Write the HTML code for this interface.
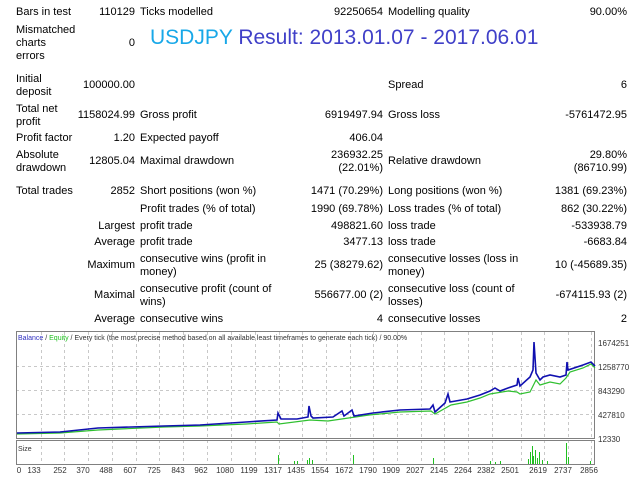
<!DOCTYPE html>
<html><head><meta charset="utf-8"><style>
body{margin:0;background:#fff;width:640px;height:480px;overflow:hidden;position:relative;font-family:"Liberation Sans",sans-serif;font-size:11px;color:#000}
.t{position:absolute;white-space:nowrap;line-height:13px}
.r{text-align:right}
</style></head><body>
<div class="t" style="left:16px;top:6px">Bars in test</div>
<div class="t r" style="right:505px;top:6px">110129</div>
<div class="t" style="left:140px;top:6px">Ticks modelled</div>
<div class="t r" style="right:257px;top:6px">92250654</div>
<div class="t" style="left:388px;top:6px">Modelling quality</div>
<div class="t r" style="right:13px;top:6px">90.00%</div>

<div class="t" style="left:16px;top:24px">Mismatched<br>charts<br>errors</div>
<div class="t r" style="right:505px;top:37px">0</div>
<div class="t" style="left:150px;top:25px;font-size:21px;line-height:26px;color:#4040c8"><span style="color:#18a8e8">USDJPY</span> Result: 2013.01.07 - 2017.06.01</div>

<div class="t" style="left:16px;top:73px">Initial<br>deposit</div>
<div class="t r" style="right:505px;top:79px">100000.00</div>
<div class="t" style="left:388px;top:79px">Spread</div>
<div class="t r" style="right:13px;top:79px">6</div>

<div class="t" style="left:16px;top:103px">Total net<br>profit</div>
<div class="t r" style="right:505px;top:109px">1158024.99</div>
<div class="t" style="left:140px;top:109px">Gross profit</div>
<div class="t r" style="right:257px;top:109px">6919497.94</div>
<div class="t" style="left:388px;top:109px">Gross loss</div>
<div class="t r" style="right:13px;top:109px">-5761472.95</div>

<div class="t" style="left:16px;top:132px">Profit factor</div>
<div class="t r" style="right:505px;top:132px">1.20</div>
<div class="t" style="left:140px;top:132px">Expected payoff</div>
<div class="t r" style="right:257px;top:132px">406.04</div>

<div class="t" style="left:16px;top:149px">Absolute<br>drawdown</div>
<div class="t r" style="right:505px;top:155px">12805.04</div>
<div class="t" style="left:140px;top:155px">Maximal drawdown</div>
<div class="t r" style="right:257px;top:149px">236932.25<br>(22.01%)</div>
<div class="t" style="left:388px;top:155px">Relative drawdown</div>
<div class="t r" style="right:13px;top:149px">29.80%<br>(86710.99)</div>

<div class="t" style="left:16px;top:185px">Total trades</div>
<div class="t r" style="right:505px;top:185px">2852</div>
<div class="t" style="left:140px;top:185px">Short positions (won %)</div>
<div class="t r" style="right:257px;top:185px">1471 (70.29%)</div>
<div class="t" style="left:388px;top:185px">Long positions (won %)</div>
<div class="t r" style="right:13px;top:185px">1381 (69.23%)</div>

<div class="t" style="left:140px;top:203px">Profit trades (% of total)</div>
<div class="t r" style="right:257px;top:203px">1990 (69.78%)</div>
<div class="t" style="left:388px;top:203px">Loss trades (% of total)</div>
<div class="t r" style="right:13px;top:203px">862 (30.22%)</div>

<div class="t r" style="right:505px;top:220px">Largest</div>
<div class="t" style="left:140px;top:220px">profit trade</div>
<div class="t r" style="right:257px;top:220px">498821.60</div>
<div class="t" style="left:388px;top:220px">loss trade</div>
<div class="t r" style="right:13px;top:220px">-533938.79</div>

<div class="t r" style="right:505px;top:236px">Average</div>
<div class="t" style="left:140px;top:236px">profit trade</div>
<div class="t r" style="right:257px;top:236px">3477.13</div>
<div class="t" style="left:388px;top:236px">loss trade</div>
<div class="t r" style="right:13px;top:236px">-6683.84</div>

<div class="t r" style="right:505px;top:259px">Maximum</div>
<div class="t" style="left:140px;top:253px">consecutive wins (profit in<br>money)</div>
<div class="t r" style="right:257px;top:259px">25 (38279.62)</div>
<div class="t" style="left:388px;top:253px">consecutive losses (loss in<br>money)</div>
<div class="t r" style="right:13px;top:259px">10 (-45689.35)</div>

<div class="t r" style="right:505px;top:289px">Maximal</div>
<div class="t" style="left:140px;top:283px">consecutive profit (count of<br>wins)</div>
<div class="t r" style="right:257px;top:289px">556677.00 (2)</div>
<div class="t" style="left:388px;top:283px">consecutive loss (count of<br>losses)</div>
<div class="t r" style="right:13px;top:289px">-674115.93 (2)</div>

<div class="t r" style="right:505px;top:313px">Average</div>
<div class="t" style="left:140px;top:313px">consecutive wins</div>
<div class="t r" style="right:257px;top:313px">4</div>
<div class="t" style="left:388px;top:313px">consecutive losses</div>
<div class="t r" style="right:13px;top:313px">2</div>

<svg style="position:absolute;left:0;top:0" width="640" height="480" font-family="Liberation Sans, sans-serif">
<g stroke="#c8c8c8" stroke-dasharray="3,3" stroke-width="1" fill="none">
<line x1="16" x2="595" y1="366.5" y2="366.5"/><line x1="16" x2="595" y1="390.5" y2="390.5"/><line x1="16" x2="595" y1="414.5" y2="414.5"/>
<path d="M41.5 332V464M64.5 332V464M88.5 332V464M112.5 332V464M136.5 332V464M159.5 332V464M183.5 332V464M207.5 332V464M231.5 332V464M255.5 332V464M279.5 332V464M302.5 332V464M326.5 332V464M350.5 332V464M373.5 332V464M397.5 332V464M421.5 332V464M444.5 332V464M468.5 332V464M492.5 332V464M521.5 332V464M544.5 332V464M568.5 332V464M591.5 332V464"/>
</g>
<rect x="16.5" y="331.5" width="578" height="107" fill="none" stroke="#808080"/>
<rect x="16.5" y="440.5" width="578" height="24" fill="none" stroke="#808080"/>
<text x="18" y="340" font-size="7" fill="#333"><tspan fill="#3030c0">Balance</tspan> / <tspan fill="#20c020">Equity</tspan> / Every tick (the most precise method based on all available least timeframes to generate each tick) / 90.00%</text>
<text x="18" y="451" font-size="7" fill="#333">Size</text>
<polyline fill="none" stroke="#30c030" stroke-width="1.2" points="17,434 60,433 98,430 164,427 200,426 246,424 277,422 279,424 310,420 328,421 369,415 400,412 431,411 435,414 451,405 467,402 480,398 490,394 508,391 517,392 520,394 530,392 533,386 536,380 540,385 550,382 560,384 566,378 570,372 583,368 591,364 595,368"/>
<polyline fill="none" stroke="#1010b0" stroke-width="1.6" points="17,433 60,432 98,428 164,426 200,425 246,422 277,420 278,413 281,419 297,419 308,417 309,406 311,416 313,418 333,417 342,411 344,416 352,410 354,416 373,413 400,410 430,409 433,405 435,412 445,403 448,394 450,402 467,399 480,395 490,391 495,388 500,391 508,388 517,385 518,378 520,386 530,377 533,370 534,342 536,373 540,380 543,377 550,375 560,377 566,375 567,362 568,370 583,365 591,362 595,366"/>
<g stroke="#20c020" stroke-width="1">
<path d="M278.5 464V455M294.5 464V461M297.5 464V461M307.5 464V460M309.5 464V458M312.5 464V460M353.5 464V455M433.5 464V458M490.5 464V461M495.5 464V462M500.5 464V461M528.5 464V459M530.5 464V452M532.5 464V446M533.5 464V456M535.5 464V450M537.5 464V458M539.5 464V452M542.5 464V460M547.5 464V461M566.5 464V443M568.5 464V457M590.5 464V461"/>
</g>
<g font-size="8" fill="#333">
<text x="598" y="346">1674251</text><text x="598" y="370">1258770</text><text x="598" y="394">843290</text><text x="598" y="418">427810</text><text x="598" y="442">12330</text>
</g>
<g font-size="8" fill="#333" text-anchor="middle">
<text x="19" y="473">0</text><text x="34" y="473">133</text><text x="60" y="473">252</text><text x="83" y="473">370</text><text x="106" y="473">488</text><text x="130" y="473">607</text><text x="154" y="473">725</text><text x="178" y="473">843</text><text x="201" y="473">962</text><text x="225" y="473">1080</text><text x="249" y="473">1199</text><text x="273" y="473">1317</text><text x="296" y="473">1435</text><text x="320" y="473">1554</text><text x="344" y="473">1672</text><text x="368" y="473">1790</text><text x="391" y="473">1909</text><text x="415" y="473">2027</text><text x="439" y="473">2145</text><text x="463" y="473">2264</text><text x="486" y="473">2382</text><text x="510" y="473">2501</text><text x="538" y="473">2619</text><text x="563" y="473">2737</text><text x="589" y="473">2856</text>
</g>
</svg>
</body></html>
